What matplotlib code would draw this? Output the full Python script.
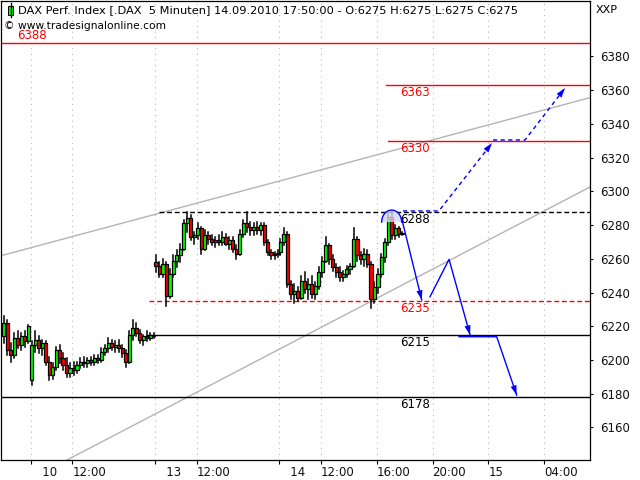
import numpy as np
import matplotlib
matplotlib.use("Agg")
import matplotlib.pyplot as plt
from matplotlib.patches import Rectangle

# x = 5-minute bar index, 0 = 10.09.2010 09:00 (107 bars per session)

day9_start = -24
day9_open = 6214
day9_high = [6226, 6224, 6210, 6216, 6217, 6216, 6217, 6221]
day9_low = [6210, 6203, 6199, 6201, 6207, 6206, 6208, 6210]
day9_close = [6222, 6206, 6203, 6213, 6209, 6214, 6211, 6220]

day10_start = 0
day10_open = 6188
day10_high = [6211, 6217, 6214, 6212, 6211, 6202, 6198, 6208, 6209, 6204, 6201, 6198,
              6199, 6199, 6201, 6202, 6201, 6202, 6203, 6203, 6207, 6209, 6213, 6212,
              6211, 6212, 6209, 6206, 6217, 6224, 6222, 6218, 6215, 6217, 6216, 6216]
day10_low = [6185, 6205, 6204, 6203, 6197, 6188, 6189, 6194, 6198, 6194, 6190, 6190,
             6191, 6192, 6195, 6196, 6196, 6197, 6197, 6198, 6199, 6203, 6205, 6206,
             6205, 6205, 6202, 6196, 6198, 6212, 6214, 6210, 6209, 6211, 6212, 6213]
day10_close = [6209, 6212, 6207, 6210, 6199, 6191, 6196, 6206, 6201, 6197, 6192, 6195,
               6194, 6197, 6199, 6198, 6200, 6199, 6201, 6200, 6205, 6207, 6210, 6208,
               6209, 6207, 6204, 6199, 6215, 6219, 6216, 6212, 6214, 6213, 6215, 6214]

day13_start = 107
day13_open = 6258
day13_high = [6262, 6258, 6260, 6258, 6254, 6262, 6265, 6269, 6283, 6288, 6286, 6276,
              6281, 6279, 6277, 6276, 6274, 6273, 6274, 6276, 6275, 6273, 6273, 6268,
              6277, 6283, 6288, 6282, 6281, 6282, 6281, 6281, 6271, 6265, 6264, 6265]
day13_low = [6252, 6249, 6249, 6232, 6237, 6249, 6255, 6258, 6265, 6276, 6271, 6269,
             6272, 6263, 6265, 6269, 6268, 6267, 6268, 6268, 6268, 6266, 6264, 6260,
             6262, 6273, 6276, 6274, 6274, 6275, 6274, 6268, 6262, 6260, 6260, 6261]
day13_close = [6256, 6251, 6257, 6238, 6251, 6259, 6262, 6266, 6281, 6284, 6273, 6274,
               6278, 6266, 6274, 6272, 6270, 6271, 6270, 6273, 6269, 6271, 6266, 6263,
               6275, 6281, 6279, 6277, 6279, 6277, 6280, 6270, 6264, 6262, 6263, 6263]

day14_start = 214
day14_open = 6264
day14_high = [6272, 6278, 6276, 6247, 6245, 6243, 6250, 6252, 6248, 6250, 6246, 6255,
              6261, 6273, 6269, 6262, 6257, 6255, 6253, 6256, 6257, 6278, 6273, 6264,
              6266, 6265, 6258, 6246, 6254, 6263, 6272, 6287, 6288, 6280, 6279, 6276]
day14_low = [6262, 6268, 6243, 6236, 6234, 6235, 6236, 6240, 6236, 6237, 6236, 6242,
             6249, 6258, 6257, 6253, 6249, 6247, 6247, 6249, 6251, 6255, 6259, 6257,
             6256, 6255, 6231, 6234, 6240, 6249, 6258, 6268, 6272, 6272, 6273, 6274]
day14_close = [6270, 6275, 6245, 6239, 6241, 6237, 6247, 6242, 6245, 6239, 6244, 6252,
               6259, 6268, 6260, 6255, 6252, 6249, 6251, 6254, 6256, 6272, 6262, 6260,
               6263, 6257, 6236, 6243, 6251, 6261, 6270, 6285, 6274, 6278, 6275, 6275]

# tick positions / labels (bar index)
tick_pos = [0, 36, 107, 143, 214, 250, 298, 346, 394, 442]
tick_lab = ['   10', '12:00', '   13', '12:00', '   14', '12:00', '16:00', '20:00', '15', '04:00']
ytick_vals = list(range(6160, 6381, 20))

# horizontal levels: value, start index, color, style
levels = [(6388, -26, 'red', '-'),
          (6363, 306, 'red', '-'),
          (6330, 308, 'red', '-'),
          (6288, 111, 'black', '--'),
          (6235, 102, 'red', '--'),
          (6215, 100, 'black', '-'),
          (6178, -26, 'black', '-')]

# grey trend lines (start, end)
trend_upper = [(-26.2, 6261.7), (483.2, 6355.9)]
trend_lower = [(31.4, 6140.7), (483.2, 6303.2)]

# blue scenario paths
up1 = [(320.6, 6288.4), (351.5, 6288.4), (397.2, 6328.7)]
up2 = [(398.0, 6330.5), (425.6, 6330.5), (460.0, 6361.3)]
dn1 = [(319.4, 6284.0), (336.7, 6235.6)]
dn2 = [(343.8, 6237.5), (360.2, 6259.7), (378.3, 6214.8)]
dn3 = [(368.8, 6213.8), (401.2, 6213.8), (418.4, 6179.2)]
arc_center = (310.8, 6281.8)
arc_size = (8.6, 7.1)

blue = '#0000ff'
green = '#00ff00'
red = '#ff0000'

fig = plt.figure(figsize=(6.4, 4.8), dpi=100)
ax = fig.add_axes([1 / 640, 20 / 480, 589 / 640, 459 / 480])
ax.set_xlim(-25.4, 481.5)
ax.set_ylim(6140.7, 6412.9)

# dotted vertical grid
for p in tick_pos:
    ax.axvline(p, color='#b8b8b8', lw=0.8, ls=(0, (1, 4)), zorder=0)

# trend lines
for tl in (trend_upper, trend_lower):
    ax.plot([tl[0][0], tl[1][0]], [tl[0][1], tl[1][1]], color='#b4b4b4', lw=1, zorder=1)

# levels
for val, x0, col, ls in levels:
    dash = (0, (3.5, 2)) if ls == '--' else '-'
    ax.plot([x0, 485], [val, val], color=col, lw=1, ls=dash, zorder=2)
    if val == 6388:
        ax.text(-11.5, val + 0.3, str(val), color=col, fontsize=8.5, va='bottom', ha='left')
    else:
        ax.text(318, val - 0.8, str(val), color=col, fontsize=8.5, va='top', ha='left', zorder=2)

# candles
days = [(day9_start, day9_open, day9_high, day9_low, day9_close),
        (day10_start, day10_open, day10_high, day10_low, day10_close),
        (day13_start, day13_open, day13_high, day13_low, day13_close),
        (day14_start, day14_open, day14_high, day14_low, day14_close)]
w = 2.7
for start, op0, hi, lo, cl in days:
    opens = [op0] + cl[:-1]
    for k in range(len(cl)):
        x = start + 3 * k + 1
        o, c = opens[k], cl[k]
        ax.plot([x, x], [lo[k], hi[k]], color='black', lw=1.1, zorder=3)
        col = green if c >= o else red
        ax.add_patch(Rectangle((x - w / 2, min(o, c)), w, max(abs(c - o), 0.5),
                               facecolor=col, edgecolor='black', lw=0.9, zorder=4))

# blue arc with fill
t = np.linspace(0, np.pi, 60)
arc_x = arc_center[0] + arc_size[0] * np.cos(t)
arc_y = arc_center[1] + arc_size[1] * np.sin(t)
ax.fill(arc_x, arc_y, color='#d8d8f4', alpha=0.8, lw=0, zorder=5)
ax.plot(arc_x, arc_y, color=blue, lw=1, zorder=6)


def path_arrow(pts, ls):
    xs = [p[0] for p in pts]
    ys = [p[1] for p in pts]
    ax.plot(xs, ys, color=blue, lw=1, ls=ls, zorder=6)
    ax.annotate('', xy=pts[-1], xytext=pts[-2], zorder=6,
                arrowprops=dict(arrowstyle='-|>,head_length=0.7,head_width=0.22',
                                color=blue, lw=0, shrinkA=0, shrinkB=0, mutation_scale=10))


for pts in (up1, up2):
    path_arrow(pts, (0, (3, 2.5)))
for pts in (dn1, dn2, dn3):
    path_arrow(pts, '-')

# axes styling
for s in ax.spines.values():
    s.set_linewidth(0.9)
ax.yaxis.tick_right()
ax.set_yticks(ytick_vals)
ax.set_yticklabels([str(v) for v in ytick_vals], fontsize=8.5, color='#101010')
ax.tick_params(axis='y', direction='out', length=2.5, pad=5)
ax.set_xticks(tick_pos)
ax.set_xticklabels(tick_lab, fontsize=8.5, ha='left', color='#101010')
ax.tick_params(axis='x', direction='out', length=3, pad=1)

# header
fig.text(18 / 640, 1 - 10 / 480,
         'DAX Perf. Index [.DAX  5 Minuten] 14.09.2010 17:50:00 - O:6275 H:6275 L:6275 C:6275',
         fontsize=8.2, va='center', ha='left')
fig.text(4 / 640, 1 - 26 / 480, '\u00a9 www.tradesignalonline.com', fontsize=7.7, va='center', ha='left')
fig.text(596 / 640, 1 - 10 / 480, 'XXP', fontsize=8, va='center', ha='left')
# little candle icon
fig.add_artist(plt.Line2D([10.5 / 640, 10.5 / 640], [1 - 3 / 480, 1 - 17 / 480], color='black', lw=1))
fig.add_artist(Rectangle((8 / 640, 1 - 14.5 / 480), 5 / 640, 8 / 480, facecolor=green,
                         edgecolor='black', lw=0.7, transform=fig.transFigure))

fig.savefig('out.png', dpi=100)
